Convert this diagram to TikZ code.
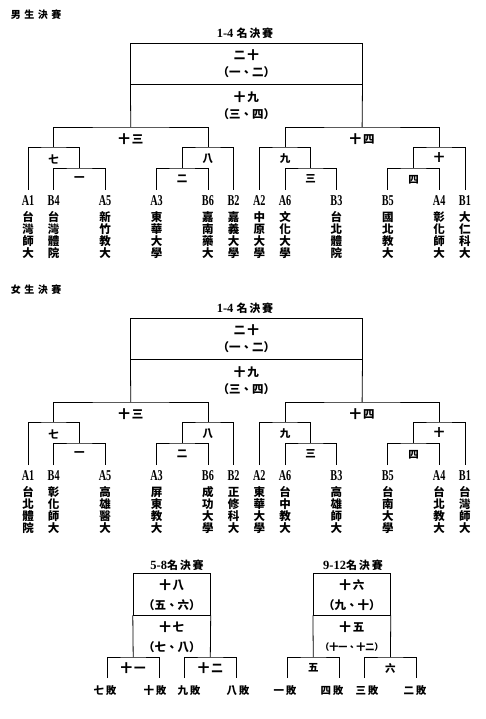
\documentclass[tikz,border=0pt]{standalone}
\usepackage{fontspec}
\usepackage{graphicx}
\setmainfont{Liberation Serif}
\newfontfamily\cjk{Noto Sans CJK TC}
\tikzset{
 ln/.style={line width=0.8pt},
 hd/.style={font=\cjk\bfseries\fontsize{10}{12}\selectfont, inner sep=0pt},
 hdt/.style={font=\bfseries\fontsize{12.5}{13}\selectfont, inner sep=0pt},
 brk/.style={font=\cjk\bfseries\fontsize{10.5}{12}\selectfont, inner sep=0pt},
 boxt/.style={font=\cjk\bfseries\fontsize{11.5}{13}\selectfont, inner sep=0pt},
 tm/.style={font=\bfseries\fontsize{15}{15}\selectfont, inner sep=0pt},
 nm/.style={font=\cjk\bfseries\fontsize{11.5}{12}\selectfont, align=center, inner sep=0pt},
 lt/.style={font=\cjk\bfseries\fontsize{10.5}{12}\selectfont, inner sep=0pt},
 fbox/.style={draw, line width=0.8pt, inner sep=0pt, minimum width=231.3pt, minimum height=41pt},
 sbox/.style={draw, line width=0.8pt, inner sep=0pt, minimum width=77.1pt, minimum height=42pt},
}
\newcommand\topbracket[4]{%
\begin{scope}[shift={(0,#2)}]
 \node[hd] (#1-head) at (36,15) {#3};
 \node[hdt] (#1-title) at (245,33) {1-4 {\cjk\bfseries\fontsize{11}{13}\selectfont 名\,決\,賽}};
 \node[fbox] (#1-final) at (246.45,63.5) {};
 \node[boxt] (#1-t20) at (246.45,55) {二\,十};
 \node[boxt] (#1-t20b) at (246.45,72) {（一、二）};
 \node[boxt] (#1-t19) at (246.45,97) {十\,九};
 \node[boxt] (#1-t19b) at (246.45,114) {（三、四）};
 \coordinate (#1-j13) at (130.8,127);
 \coordinate (#1-j14) at (362.1,127);
 \coordinate (#1-j7) at (53.7,147);
 \coordinate (#1-j8) at (207.9,147);
 \coordinate (#1-j9) at (285.0,147);
 \coordinate (#1-j10) at (439.2,147);
 \coordinate (#1-j1) at (79.4,168);
 \coordinate (#1-j2) at (182.2,168);
 \coordinate (#1-j3) at (310.7,168);
 \coordinate (#1-j4) at (413.5,168);
 \foreach \k in {0,1,3,5,7,8,9,10,12,14,16,17} {\coordinate (#1-l\k) at ({28+25.7*\k},190);}
 \draw[ln] (#1-final.south west) -- (#1-j13);
 \draw[ln] (#1-final.south east) -- (#1-j14);
 \draw[ln] (#1-j7) |- (#1-j13) -| (#1-j8);
 \draw[ln] (#1-j9) |- (#1-j14) -| (#1-j10);
 \draw[ln] (#1-l0) |- (#1-j7) -| (#1-j1);
 \draw[ln] (#1-l1) |- (#1-j1) -| (#1-l3);
 \draw[ln] (#1-j2) |- (#1-j8) -| (#1-l8);
 \draw[ln] (#1-l5) |- (#1-j2) -| (#1-l7);
 \draw[ln] (#1-l9) |- (#1-j9) -| (#1-j3);
 \draw[ln] (#1-l10) |- (#1-j3) -| (#1-l12);
 \draw[ln] (#1-j4) |- (#1-j10) -| (#1-l17);
 \draw[ln] (#1-l14) |- (#1-j4) -| (#1-l16);
 \node[boxt] (#1-b13) at (130.8,139) {十\,三};
 \node[boxt] (#1-b14) at (362.1,139) {十\,四};
 \node[brk] (#1-b7) at (53.7,159) {七};
 \node[brk] (#1-b8) at (207.9,159) {八};
 \node[brk] (#1-b9) at (285.0,159) {九};
 \node[brk] (#1-b10) at (439.2,158) {十};
 \node[brk] (#1-b1) at (79.4,179) {一};
 \node[brk] (#1-b2) at (182.2,179) {二};
 \node[brk] (#1-b3) at (310.7,179) {三};
 \node[brk] (#1-b4) at (413.5,180) {四};
 \foreach \k/\lab/\nmtext in {#4} {
   \node[tm] (#1-\lab) at ({28+25.7*\k},201) {\scalebox{0.68}[1]{\lab}};
   \node[nm] (#1-n\lab) at ({28+25.7*\k},235) {\nmtext};
 }
\end{scope}}
\begin{document}
\begin{tikzpicture}[x=1pt,y=-1pt]
\fill[white] (0,0) rectangle (485,719);
\useasboundingbox (0,0) rectangle (485,719);
\topbracket{m}{0}{男\hspace{3.5pt}生\hspace{3.5pt}決\hspace{3.5pt}賽}{0/A1/台\\灣\\師\\大, 1/B4/台\\灣\\體\\院, 3/A5/新\\竹\\教\\大, 5/A3/東\\華\\大\\學, 7/B6/嘉\\南\\藥\\大, 8/B2/嘉\\義\\大\\學, 9/A2/中\\原\\大\\學, 10/A6/文\\化\\大\\學, 12/B3/台\\北\\體\\院, 14/B5/國\\北\\教\\大, 16/A4/彰\\化\\師\\大, 17/B1/大\\仁\\科\\大}
\topbracket{w}{275}{女\hspace{3.5pt}生\hspace{3.5pt}決\hspace{3.5pt}賽}{0/A1/台\\北\\體\\院, 1/B4/彰\\化\\師\\大, 3/A5/高\\雄\\醫\\大, 5/A3/屏\\東\\教\\大, 7/B6/成\\功\\大\\學, 8/B2/正\\修\\科\\大, 9/A2/東\\華\\大\\學, 10/A6/台\\中\\教\\大, 12/B3/高\\雄\\師\\大, 14/B5/台\\南\\大\\學, 16/A4/台\\北\\教\\大, 17/B1/台\\灣\\師\\大}
% 5-8
\node[hdt] (c-title) at (177,565) {5-8{\cjk\bfseries\fontsize{11}{13}\selectfont 名\,決\,賽}};
\node[sbox] (c-top) at (171.75,594) {};
\node[boxt] (c-t18) at (171.75,585) {十\,八};
\node[boxt] (c-t18b) at (171.75,605) {（五、六）};
\node[boxt] (c-t17) at (171.75,627) {十\,七};
\node[boxt] (c-t17b) at (171.75,647) {（七、八）};
\coordinate (c-j11) at (133.2,657);
\coordinate (c-j12) at (210.3,657);
\coordinate (c-l0) at (107.5,678);
\coordinate (c-l1) at (158.9,678);
\coordinate (c-l2) at (184.6,678);
\coordinate (c-l3) at (236.0,678);
\draw[ln] (c-top.south west) -- (c-j11);
\draw[ln] (c-top.south east) -- (c-j12);
\draw[ln] (c-l0) |- (c-j11) -| (c-l1);
\draw[ln] (c-l2) |- (c-j12) -| (c-l3);
\node[boxt] (c-b11) at (133.2,668) {十\,一};
\node[boxt] (c-b12) at (210.3,668) {十\,二};
\node[lt] (c-x7) at (105,691) {七\,敗};
\node[lt] (c-x10) at (155,691) {十\,敗};
\node[lt] (c-x9) at (189,691) {九\,敗};
\node[lt] (c-x8) at (238,691) {八\,敗};
% 9-12
\node[hdt] (d-title) at (353,565) {9-12{\cjk\bfseries\fontsize{11}{13}\selectfont 名\,決\,賽}};
\node[sbox] (d-top) at (351.85,594) {};
\node[boxt] (d-t16) at (351.85,585) {十\,六};
\node[boxt] (d-t16b) at (351.85,605) {（九、十）};
\node[boxt] (d-t15) at (351.85,627) {十\,五};
\node[boxt, font=\cjk\bfseries\fontsize{9}{11}\selectfont] (d-t15b) at (351.85,647) {（十一、十二）};
\coordinate (d-j5) at (313.3,657);
\coordinate (d-j6) at (390.4,657);
\coordinate (d-l0) at (287.6,678);
\coordinate (d-l1) at (339.0,678);
\coordinate (d-l2) at (364.7,678);
\coordinate (d-l3) at (416.1,678);
\draw[ln] (d-top.south west) -- (d-j5);
\draw[ln] (d-top.south east) -- (d-j6);
\draw[ln] (d-l0) |- (d-j5) -| (d-l1);
\draw[ln] (d-l2) |- (d-j6) -| (d-l3);
\node[brk] (d-b5) at (313.3,668) {五};
\node[brk] (d-b6) at (390.4,668) {六};
\node[lt] (d-x1) at (285,691) {一\,敗};
\node[lt] (d-x4) at (332,691) {四\,敗};
\node[lt] (d-x3) at (367,691) {三\,敗};
\node[lt] (d-x2) at (415,691) {二\,敗};
\end{tikzpicture}
\end{document}
